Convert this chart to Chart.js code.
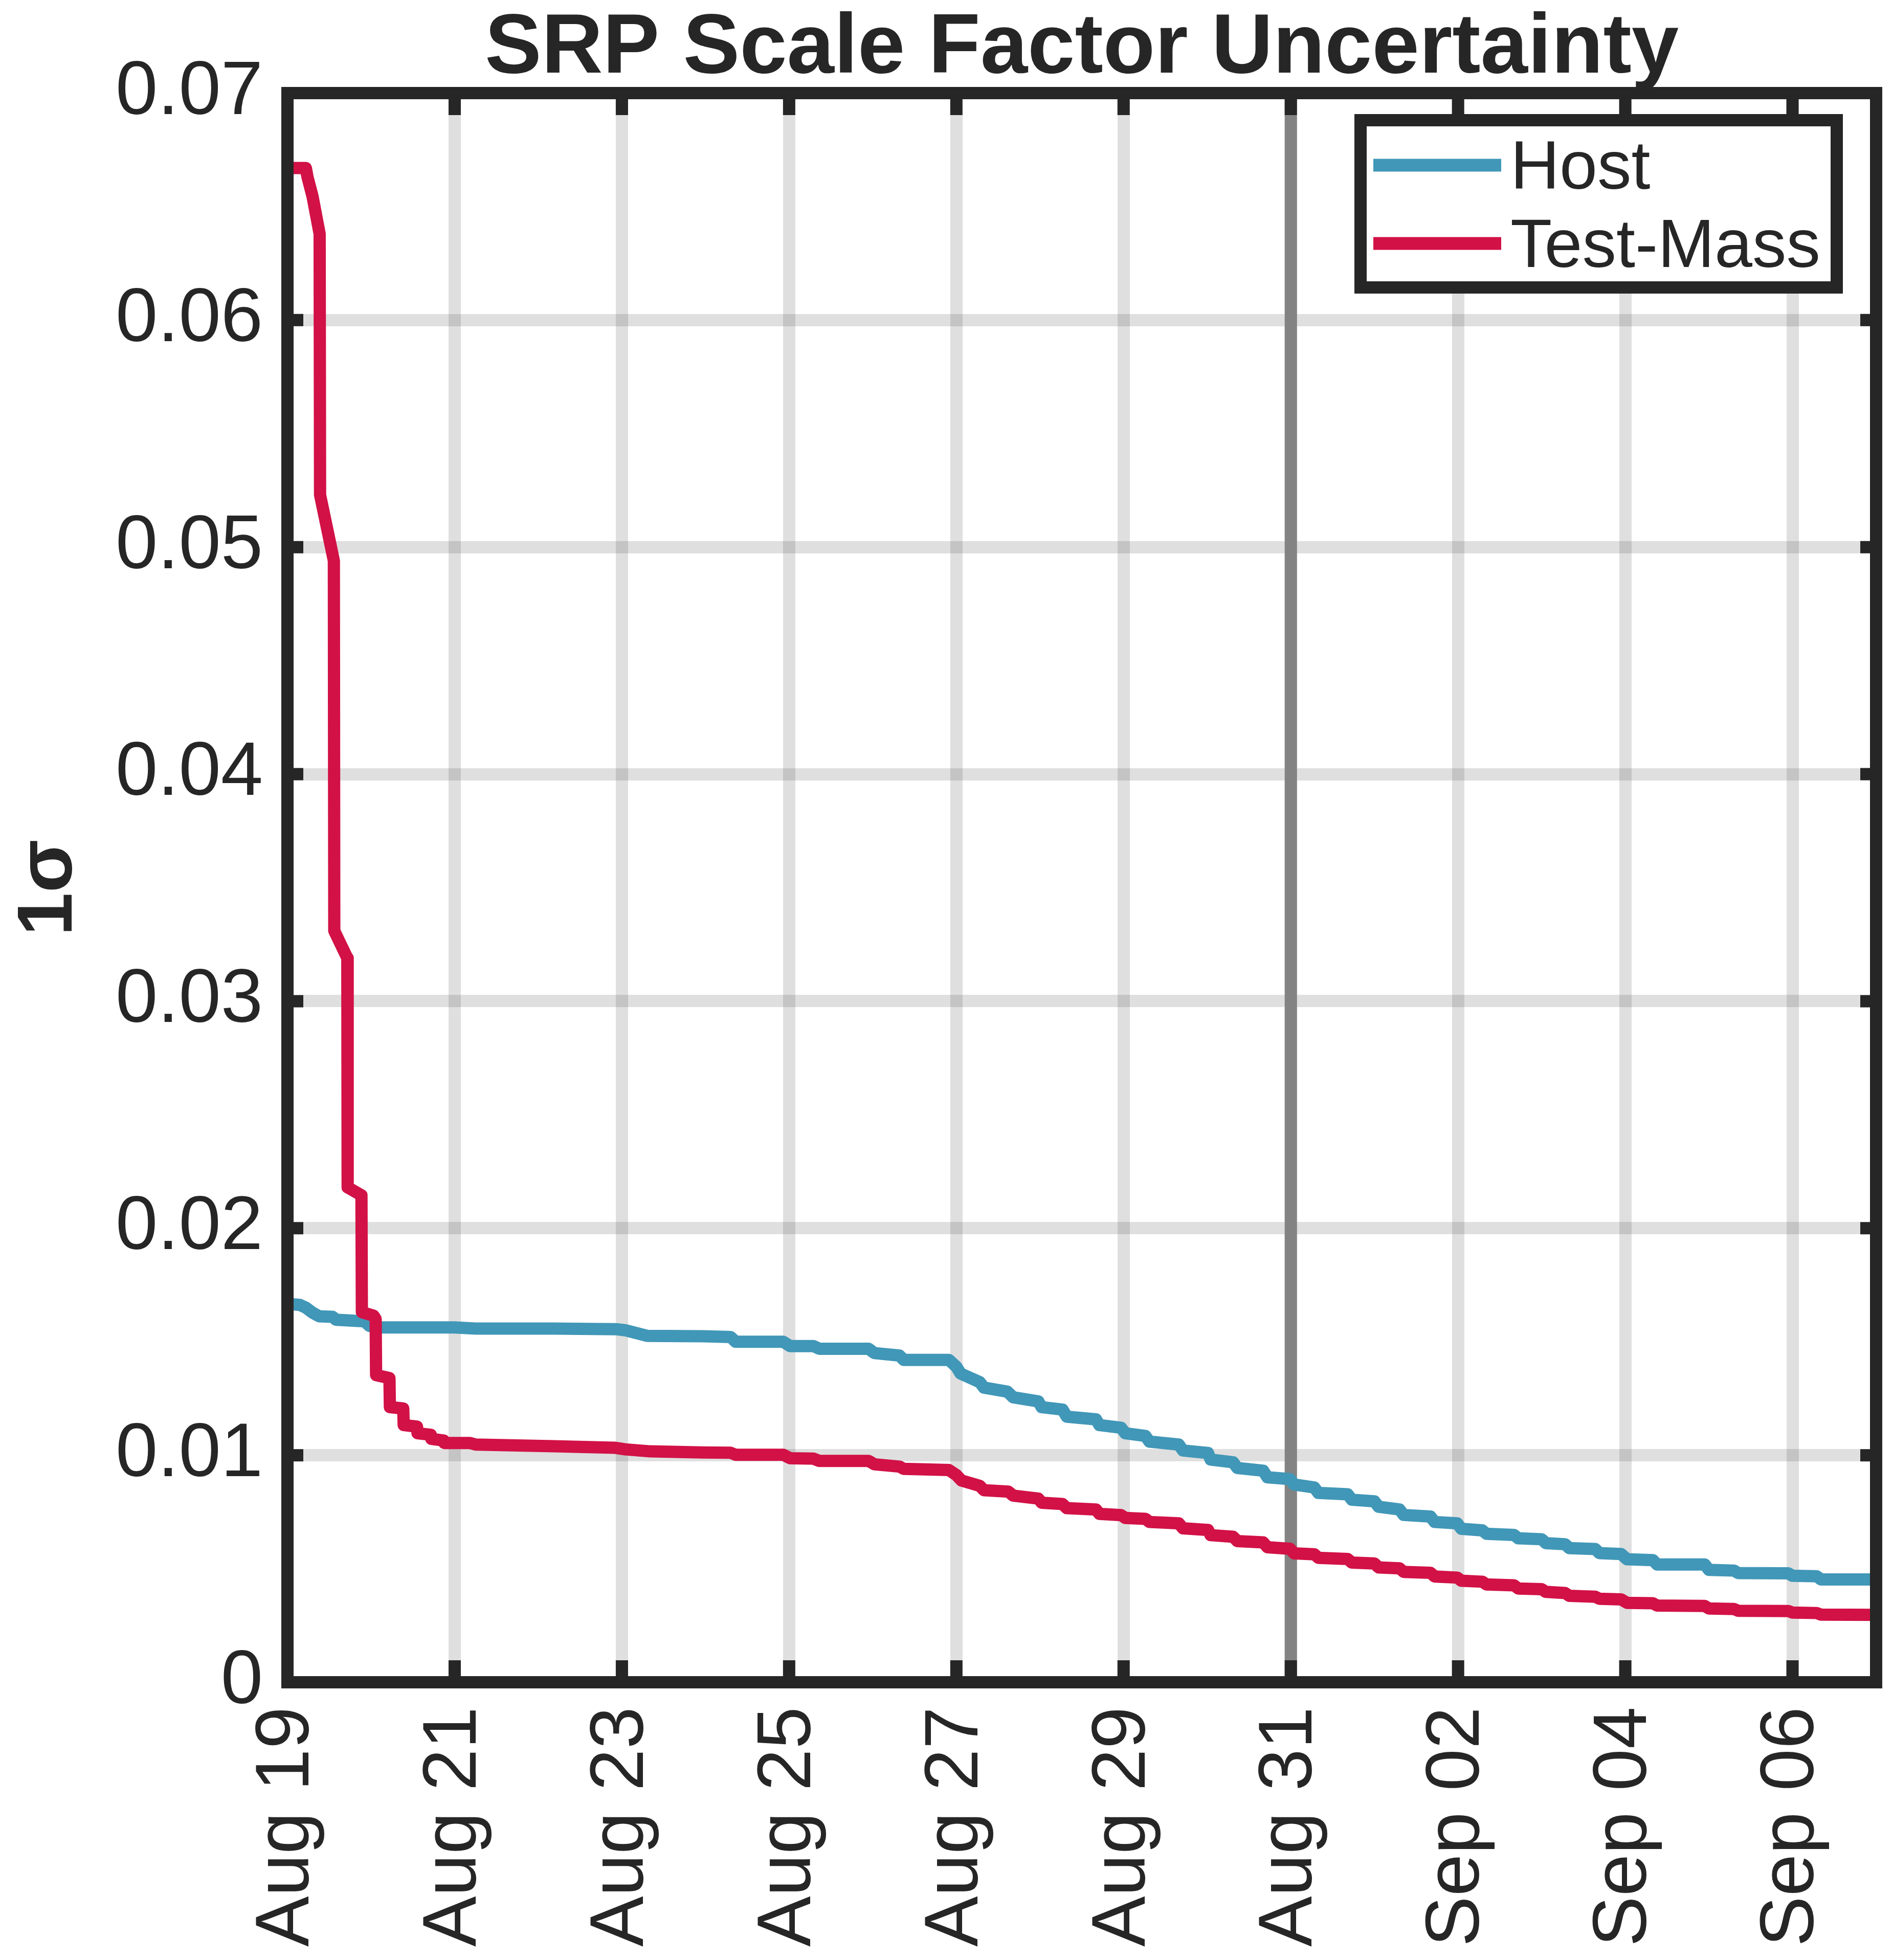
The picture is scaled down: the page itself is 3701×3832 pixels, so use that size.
<!DOCTYPE html>
<html>
<head>
<meta charset="utf-8">
<script src="https://cdn.jsdelivr.net/npm/chart.js@4.4.1/dist/chart.umd.min.js"></script>
<style>
  html, body { margin: 0; padding: 0; background: #fff; }
  #wrap { width: 3701px; height: 3832px; }
</style>
</head>
<body>
<div id="wrap"><canvas id="srpChart" width="3701" height="3832"></canvas></div>
<script>
// Time is in days since Aug 19 00:00
const hostDay = [0, 0.15, 0.22, 0.30, 0.38, 0.54, 0.58, 0.92, 0.98, 1.06, 2.00, 2.25, 3.18, 3.94, 4.05, 4.30, 4.97, 5.30, 5.36, 5.93,
    6.01, 6.29, 6.36, 6.95, 7.02, 7.32, 7.37, 7.91, 8.00, 8.05, 8.28, 8.33, 8.61, 8.68, 8.98, 9.02, 9.27, 9.32, 9.67, 9.71,
    9.97, 10.02, 10.26, 10.31, 10.66, 10.71, 11.01, 11.04, 11.31, 11.36, 11.67, 11.72, 11.99, 12.04, 12.28, 12.33, 12.68, 12.73, 13.00, 13.05,
    13.30, 13.35, 13.67, 13.72, 13.99, 14.04, 14.29, 14.34, 14.67, 14.72, 15.00, 15.05, 15.28, 15.33, 15.64, 15.69, 15.95, 16.02, 16.33, 16.38,
    16.95, 17.00, 17.30, 17.35, 17.95, 18.00, 18.29, 18.34, 19.00];
const hostSigma = [0.01667, 0.01662, 0.01650, 0.01628, 0.01612, 0.01610, 0.01597, 0.01590, 0.01570, 0.01563, 0.01563, 0.01558, 0.01558, 0.01555, 0.01550, 0.01526, 0.01524, 0.01521, 0.01500, 0.01500,
    0.01481, 0.01481, 0.01469, 0.01469, 0.01450, 0.01439, 0.01420, 0.01420, 0.01390, 0.01360, 0.01322, 0.01298, 0.01280, 0.01255, 0.01237, 0.01212, 0.01201, 0.01170, 0.01158, 0.01133,
    0.01121, 0.01097, 0.01085, 0.01060, 0.01047, 0.01021, 0.01010, 0.00981, 0.00969, 0.00944, 0.00932, 0.00903, 0.00895, 0.00871, 0.00858, 0.00834, 0.00828, 0.00804, 0.00797, 0.00773,
    0.00761, 0.00737, 0.00730, 0.00706, 0.00700, 0.00676, 0.00669, 0.00654, 0.00649, 0.00634, 0.00630, 0.00613, 0.00608, 0.00591, 0.00587, 0.00569, 0.00565, 0.00542, 0.00538, 0.00519,
    0.00519, 0.00495, 0.00492, 0.00481, 0.00480, 0.00469, 0.00467, 0.00453, 0.00453];

const massDay = [0, 0.22, 0.24, 0.30, 0.385, 0.39, 0.555, 0.56, 0.716, 0.72, 0.885, 0.89, 1.03, 1.055, 1.06, 1.22, 1.225, 1.385, 1.39, 1.55,
    1.555, 1.715, 1.72, 1.87, 1.875, 2.18, 2.25, 3.18, 3.91, 4.04, 4.34, 4.97, 5.30, 5.36, 5.93, 6.01, 6.29, 6.36, 6.95, 7.02,
    7.32, 7.37, 7.91, 8.00, 8.06, 8.28, 8.33, 8.62, 8.68, 8.98, 9.02, 9.27, 9.32, 9.67, 9.71, 9.97, 10.02, 10.26, 10.31, 10.66,
    10.71, 11.01, 11.04, 11.31, 11.36, 11.67, 11.72, 11.99, 12.04, 12.28, 12.33, 12.68, 12.73, 13.00, 13.05, 13.30, 13.35, 13.67, 13.72, 13.99,
    14.04, 14.29, 14.34, 14.67, 14.72, 15.00, 15.05, 15.28, 15.33, 15.64, 15.69, 15.95, 16.02, 16.33, 16.38, 16.95, 17.00, 17.30, 17.35, 17.95,
    18.00, 18.29, 18.34, 19.00];
const massSigma = [0.0667, 0.0667, 0.0663, 0.06545, 0.0638, 0.0523, 0.0494, 0.0331, 0.0319, 0.0218, 0.02145, 0.0163, 0.01615, 0.0160, 0.01353, 0.0134, 0.01212, 0.01206, 0.01133, 0.01126,
    0.01097, 0.0109, 0.01072, 0.01065, 0.01054, 0.01054, 0.01047, 0.0104, 0.01033, 0.01026, 0.01017, 0.01012, 0.01011, 0.01002, 0.01002, 0.00987, 0.00985, 0.00975, 0.00975, 0.0096,
    0.0095, 0.0094, 0.00935, 0.00913, 0.00889, 0.00865, 0.00846, 0.0084, 0.00822, 0.00809, 0.00791, 0.00785, 0.00767, 0.00761, 0.00742, 0.00736, 0.00724, 0.0072, 0.00706, 0.007,
    0.00678, 0.00671, 0.00648, 0.00641, 0.00622, 0.00616, 0.00595, 0.00588, 0.00568, 0.00564, 0.00548, 0.00543, 0.00527, 0.00523, 0.00506, 0.00502, 0.00486, 0.00482, 0.00466, 0.00461,
    0.00447, 0.00443, 0.00431, 0.00427, 0.00413, 0.0041, 0.00398, 0.00393, 0.00381, 0.00377, 0.00368, 0.00365, 0.0035, 0.00348, 0.00338, 0.00336, 0.00325, 0.00323, 0.00315, 0.00314,
    0.00307, 0.00305, 0.00298, 0.00297];

const xTickLabels = ['Aug 19', 'Aug 21', 'Aug 23', 'Aug 25', 'Aug 27', 'Aug 29', 'Aug 31', 'Sep 02', 'Sep 04', 'Sep 06'];
const yTickLabels = ['0', '0.01', '0.02', '0.03', '0.04', '0.05', '0.06', '0.07'];
const seriesNames = ['Host', 'Test-Mass'];
const seriesColors = ['#4197b7', '#d21146'];
const markerDay = 12; // Aug 31 reference line

const INK = '#262626';
const FONT = "'Liberation Sans', Arial, Helvetica, sans-serif";
const GRID = 'rgba(38, 38, 38, 0.15)';

function toPoints(xs, ys) {
    return xs.map((x, i) => ({ x: x, y: ys[i] }));
}

// Box, inward ticks, legend, title and y label drawn on top
const framePlugin = {
    id: 'frame',
    afterDraw(chart) {
        const ctx = chart.ctx;
        const area = chart.chartArea;
        const xs = chart.scales.x;
        const ys = chart.scales.y;

        ctx.save();
        ctx.strokeStyle = INK;
        ctx.lineWidth = 24;
        ctx.lineCap = 'butt';
        ctx.beginPath();
        xTickLabels.forEach((_, i) => {
            const px = xs.getPixelForValue(i * 2);
            ctx.moveTo(px, area.bottom); ctx.lineTo(px, area.bottom - 43);
            ctx.moveTo(px, area.top); ctx.lineTo(px, area.top + 43);
        });
        yTickLabels.forEach((_, i) => {
            const py = ys.getPixelForValue(i * 0.01);
            ctx.moveTo(area.left, py); ctx.lineTo(area.left + 31, py);
            ctx.moveTo(area.right, py); ctx.lineTo(area.right - 31, py);
        });
        ctx.stroke();
        ctx.lineJoin = 'miter';
        ctx.strokeRect(area.left, area.top, area.right - area.left, area.bottom - area.top);

        // legend
        const bw = 931, bh = 327;
        const bx = area.right - 77 - bw;
        const by = area.top + 53;
        ctx.fillStyle = '#fff';
        ctx.fillRect(bx, by, bw, bh);
        ctx.strokeRect(bx, by, bw, bh);
        ctx.font = '133px ' + FONT;
        ctx.textAlign = 'left';
        ctx.textBaseline = 'alphabetic';
        seriesNames.forEach((name, i) => {
            const ly = by + 88 + i * 153;
            ctx.strokeStyle = seriesColors[i];
            ctx.lineWidth = 25;
            ctx.beginPath();
            ctx.moveTo(bx + 25, ly); ctx.lineTo(bx + 275, ly);
            ctx.stroke();
            ctx.fillStyle = INK;
            ctx.fillText(name, bx + 293, ly + 46);
        });

        // title
        ctx.fillStyle = INK;
        ctx.font = 'bold 166px ' + FONT;
        ctx.textAlign = 'center';
        ctx.fillText('SRP Scale Factor Uncertainty', (area.left + area.right) / 2, 142);

        // y label
        ctx.translate(140, (area.top + area.bottom) / 2);
        ctx.rotate(-Math.PI / 2);
        ctx.font = 'bold 152px ' + FONT;
        ctx.fillText('1\u03c3', 0, 0);
        ctx.restore();
    }
};

const ctx = document.getElementById('srpChart').getContext('2d');
new Chart(ctx, {
    type: 'line',
    data: {
        datasets: [
            {
                label: seriesNames[0],
                data: toPoints(hostDay, hostSigma),
                borderColor: seriesColors[0],
                borderWidth: 24,
                borderJoinStyle: 'round',
                borderCapStyle: 'round',
                pointRadius: 0,
                tension: 0,
                order: 1
            },
            {
                label: seriesNames[1],
                data: toPoints(massDay, massSigma),
                borderColor: seriesColors[1],
                borderWidth: 24,
                borderJoinStyle: 'round',
                borderCapStyle: 'round',
                pointRadius: 0,
                tension: 0,
                order: 0
            },
            {
                label: 'marker',
                data: [{ x: markerDay, y: 0 }, { x: markerDay, y: 0.07 }],
                borderColor: '#838383',
                borderWidth: 24,
                borderCapStyle: 'butt',
                pointRadius: 0,
                order: 2
            }
        ]
    },
    options: {
        responsive: false,
        animation: false,
        devicePixelRatio: 1,
        events: [],
        layout: { padding: { top: 182, right: 33, bottom: 0, left: 0 } },
        plugins: {
            legend: { display: false },
            tooltip: { enabled: false },
            title: { display: false }
        },
        scales: {
            x: {
                type: 'linear',
                min: 0,
                max: 19,
                z: 1,
                afterBuildTicks: function(scale) {
                    scale.ticks = xTickLabels.map((_, i) => ({ value: i * 2 }));
                },
                afterFit: function(scale) {
                    scale.height = 543;
                    scale.paddingLeft = 0;
                    scale.paddingRight = 0;
                },
                ticks: {
                    autoSkip: false,
                    minRotation: 90,
                    maxRotation: 90,
                    padding: 48,
                    color: INK,
                    font: { family: FONT, size: 148 },
                    callback: function(value, index) { return xTickLabels[index]; }
                },
                grid: { color: GRID, lineWidth: 24, drawTicks: false },
                border: { display: false }
            },
            y: {
                type: 'linear',
                min: 0,
                max: 0.07,
                z: 1,
                afterBuildTicks: function(scale) {
                    scale.ticks = yTickLabels.map((_, i) => ({ value: i * 0.01 }));
                },
                afterFit: function(scale) {
                    scale.width = 562;
                    scale.paddingTop = 0;
                    scale.paddingBottom = 0;
                },
                ticks: {
                    padding: 48,
                    color: INK,
                    font: { family: FONT, size: 148 },
                    callback: function(value, index) { return yTickLabels[index]; }
                },
                grid: { color: GRID, lineWidth: 24, drawTicks: false },
                border: { display: false }
            }
        }
    },
    plugins: [framePlugin]
});
</script>
</body>
</html>
